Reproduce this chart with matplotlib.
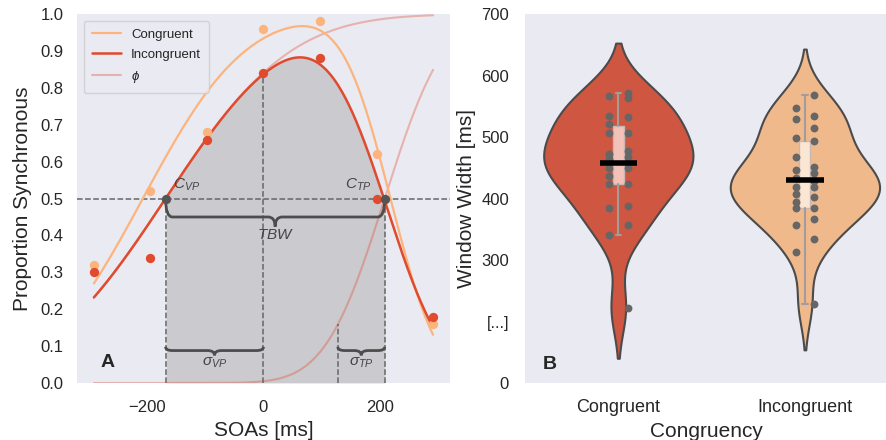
import math
import numpy as np
import pandas as pd
import matplotlib
matplotlib.use('Agg')
import matplotlib.pyplot as plt
from matplotlib.path import Path
from matplotlib.patches import PathPatch
import seaborn as sns

# ---- data panel A ----
soas = [-291, -194, -97, 0, 97, 194, 291]
prop_congruent = [0.32, 0.52, 0.68, 0.96, 0.98, 0.62, 0.16]
prop_incongruent = [0.30, 0.34, 0.66, 0.84, 0.88, 0.50, 0.18]

# fitted parameters (cut-offs and slopes)
fit_congruent = dict(c_vp=-207, s_vp=137, c_tp=218, s_tp=65)
fit_incongruent = dict(c_vp=-168, s_vp=168, c_tp=208, s_tp=80.5)

# ---- data panel B (window widths, two dot columns per condition) ----
conditions = ['Congruent', 'Incongruent']
cong_left = [566, 535, 522, 506, 473, 465, 450, 437, 424, 384, 341]
cong_right = [571, 563, 532, 507, 478, 467, 450, 424, 388, 357, 222]
incong_left = [548, 529, 499, 467, 447, 434, 418, 408, 395, 384, 357, 313]
incong_right = [568, 535, 514, 494, 452, 441, 429, 418, 403, 385, 366, 335, 229]
yticks_b = [100, 200, 300, 400, 500, 600, 700]
yticklabels_b = ['0', '[...]', '300', '400', '500', '600', '700']

# colours
c_orange = '#fdb47c'
c_red = '#e04b2e'
c_violin = ['#cf5640', '#f0b98b']
c_box = ['#f2c2b8', '#fae6d3']
c_dark = '#555555'

sns.set_style('dark')
plt.rcParams['font.family'] = ['Liberation Sans', 'DejaVu Sans']
plt.rcParams['mathtext.fontset'] = 'custom'
plt.rcParams['mathtext.it'] = 'Liberation Sans:italic'
plt.rcParams['mathtext.rm'] = 'Liberation Sans'


def phi(z):
    return 0.5 * (1 + np.vectorize(math.erf)(np.asarray(z) / math.sqrt(2)))


def sj_curve(x, c_vp, s_vp, c_tp, s_tp):
    return phi((x - c_vp) / s_vp) * (1 - phi((x - c_tp) / s_tp))


def brace(ax, x0, x1, y_top, y_mid, y_tip, rx=12):
    """curly brace opening up, tip pointing down"""
    xm = (x0 + x1) / 2
    verts, codes = [], []
    for xa, sgn in [(x0, 1), (x1, -1)]:
        verts += [(xa, y_top), (xa, y_mid), (xa + sgn * rx, y_mid),
                  (xm - sgn * rx, y_mid), (xm, y_mid), (xm, y_tip)]
        codes += [Path.MOVETO, Path.CURVE3, Path.CURVE3,
                  Path.LINETO, Path.CURVE3, Path.CURVE3]
    ax.add_patch(PathPatch(Path(verts, codes), fill=False, ec='#4d4d4d', lw=2, zorder=6))


fig = plt.figure(figsize=(8.87, 4.4), dpi=100)
ax1 = fig.add_axes([0.0868, 0.1295, 0.4205, 0.8385])
ax2 = fig.add_axes([0.5919, 0.1295, 0.4081, 0.8385])

# ---------------- panel A ----------------
x = np.linspace(soas[0], soas[-1], 400)
fc = fit_congruent
fi = fit_incongruent
y_cong = sj_curve(x, **fc)
y_inc = sj_curve(x, **fi)

h_phi, = ax1.plot(x, phi((x - fi['c_vp']) / fi['s_vp']), color=c_red, alpha=0.35, lw=1.5, zorder=2)
ax1.plot(x, phi((x - fi['c_tp']) / fi['s_tp']), color=c_red, alpha=0.35, lw=1.5, zorder=2)

mask = (x >= fi['c_vp']) & (x <= fi['c_tp'])
ax1.fill_between(x[mask], 0, y_inc[mask], color='#808080', alpha=0.3, lw=0, zorder=1)

ax1.axhline(0.5, color='#666666', ls='--', lw=1.1, zorder=3)
v_x = [fi['c_vp'], 0, fi['c_tp'] - fi['s_tp'], fi['c_tp']]
v_top = [0.5, sj_curve(0, **fi), phi(-1), 0.5]
ax1.vlines(v_x, 0, v_top, colors='#666666', linestyles='--', lw=1.1, zorder=3)

h_c, = ax1.plot(x, y_cong, color=c_orange, lw=1.6, zorder=4)
h_i, = ax1.plot(x, y_inc, color=c_red, lw=1.8, zorder=4)
ax1.scatter(soas, prop_congruent, s=45, color=c_orange, zorder=5, lw=0)
ax1.scatter(soas, prop_incongruent, s=45, color=c_red, zorder=5, lw=0)
ax1.scatter([fi['c_vp'], fi['c_tp']], [0.5, 0.5], s=45, color=c_dark, zorder=7, lw=0)

# braces and labels
brace(ax1, fi['c_vp'], fi['c_tp'], 0.5, 0.45, 0.424)
brace(ax1, fi['c_vp'], 0, 0.098, 0.088, 0.075)
brace(ax1, fi['c_tp'] - fi['s_tp'], fi['c_tp'], 0.098, 0.088, 0.075)
txt = dict(fontsize=11, color='#444444', zorder=8)
ax1.text((fi['c_vp'] + fi['c_tp']) / 2, 0.40, '$TBW$', ha='center', va='center', **txt)
ax1.text(fi['c_vp'] / 2, 0.055, r'$\sigma_{VP}$', ha='center', va='center', **txt)
ax1.text(fi['c_tp'] - fi['s_tp'] / 2, 0.055, r'$\sigma_{TP}$', ha='center', va='center', **txt)
ax1.text(fi['c_vp'] + 12, 0.515, '$C_{VP}$', ha='left', va='bottom', **txt)
ax1.text(fi['c_tp'] - 22, 0.515, '$C_{TP}$', ha='right', va='bottom', **txt)
ax1.text(0.062, 0.055, 'A', transform=ax1.transAxes, fontsize=14, fontweight='bold', va='center')

ax1.legend([h_c, h_i, h_phi], ['Congruent', 'Incongruent', r'$\phi$'], loc='upper left',
           fontsize=9.5, handlelength=2.2, borderpad=0.6, labelspacing=0.6)
ax1.set_xlim(-320, 320)
ax1.set_ylim(0, 1)
ax1.set_xticks([-200, 0, 200])
ax1.set_yticks(np.arange(0, 1.01, 0.1))
ax1.set_yticklabels([f'{v:.1f}' for v in np.arange(0, 1.01, 0.1)])
ax1.tick_params(axis='both', labelsize=12)
ax1.tick_params(axis='x', pad=9)
ax1.tick_params(axis='y', pad=6)
ax1.set_xlabel('SOAs [ms]', fontsize=15)
ax1.set_ylabel('Proportion Synchronous', fontsize=15, labelpad=6)

# ---------------- panel B ----------------
groups = [cong_left + cong_right, incong_left + incong_right]
df = pd.DataFrame({'cond': [conditions[i] for i, g in enumerate(groups) for _ in g],
                   'width': [v for g in groups for v in g]})
sns.violinplot(data=df, x='cond', y='width', hue='cond', order=conditions, hue_order=conditions,
               palette=c_violin, saturation=1, inner=None, cut=2, bw_adjust=0.9, linewidth=1.5,
               linecolor='#4b4b4b', legend=False, ax=ax2, zorder=1)

bp = ax2.boxplot(groups, positions=[0, 1], widths=0.06, patch_artist=True, showfliers=False,
                 manage_ticks=False, zorder=3,
                 boxprops=dict(edgecolor='#c8b8b4', lw=1),
                 whiskerprops=dict(color='#a49c9c', lw=1.5),
                 capprops=dict(color='#a49c9c', lw=1.5),
                 medianprops=dict(lw=0))
for patch, col in zip(bp['boxes'], c_box):
    patch.set_facecolor(col)

for i, (left, right) in enumerate([(cong_left, cong_right), (incong_left, incong_right)]):
    ax2.scatter(np.full(len(left), i - 0.05), left, s=32, color='#666666', lw=0, zorder=4)
    ax2.scatter(np.full(len(right), i + 0.05), right, s=32, color='#666666', lw=0, zorder=4)
    ax2.hlines(np.mean(left + right), i - 0.1, i + 0.1, color='black', lw=4, zorder=5)

ax2.text(0.05, 0.05, 'B', transform=ax2.transAxes, fontsize=14, fontweight='bold', va='center')
ax2.set_xlim(-0.5, 1.44)
ax2.set_ylim(100, 700)
ax2.set_yticks(yticks_b)
ax2.set_yticklabels(yticklabels_b)
ax2.set_xticks([0, 1])
ax2.set_xticklabels(conditions)
ax2.tick_params(axis='y', labelsize=12, pad=8)
ax2.tick_params(axis='x', labelsize=13, pad=8)
ax2.set_xlabel('Congruency', fontsize=15)
ax2.set_ylabel('Window Width [ms]', fontsize=15)

for ax in (ax1, ax2):
    ax.set_facecolor('#eaeaf2')
    for s in ax.spines.values():
        s.set_visible(False)

fig.savefig('out.png', dpi=100)
